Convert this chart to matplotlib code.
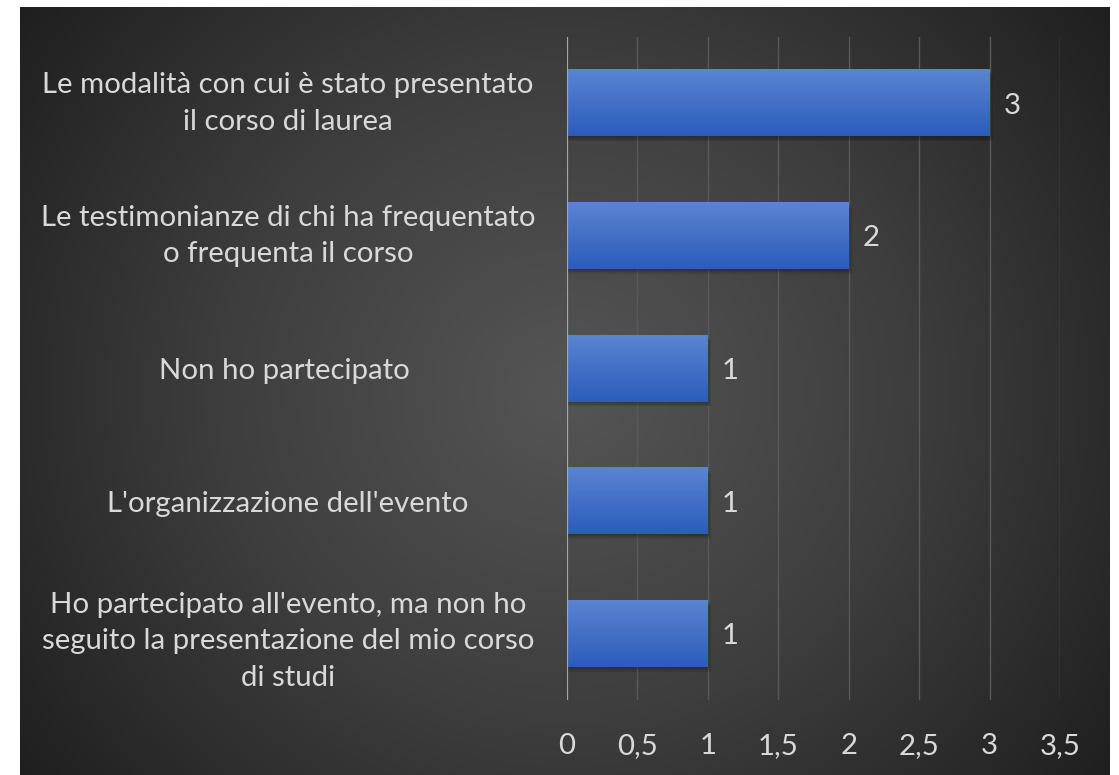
import numpy as np
import matplotlib
matplotlib.use("Agg")
import matplotlib.pyplot as plt
from matplotlib.colors import LinearSegmentedColormap

categories = [
    "Le modalità con cui è stato presentato\nil corso di laurea",
    "Le testimonianze di chi ha frequentato\no frequenta il corso",
    "Non ho partecipato ",
    "L'organizzazione dell'evento",
    "Ho partecipato all'evento, ma non ho\nseguito la presentazione del mio corso\ndi studi",
]
values = [3, 2, 1, 1, 1]
xticks = [0, 0.5, 1, 1.5, 2, 2.5, 3, 3.5]
xtick_labels = ["0", "0,5", "1", "1,5", "2", "2,5", "3", "3,5"]

W, H = 1119, 775
fig = plt.figure(figsize=(W / 100, H / 100), dpi=100, facecolor="white")
plt.rcParams["font.family"] = ["Lato", "DejaVu Sans"]
FS = 21.2
TXT = "#d9d9d9"

# background panel with radial gradient
bg = fig.add_axes([20 / W, 0, (1110 - 20) / W, (775 - 7) / H])
bg.set_axis_off()
ny, nx = 400, 560
yy, xx = np.mgrid[0:ny, 0:nx]
cx, cy = nx * 0.50, ny * 0.5
r = np.sqrt(((xx - cx) / nx) ** 2 + ((yy - cy) / ny) ** 2 * 0.55)
r = r / r.max()
cmap_bg = LinearSegmentedColormap.from_list("bg", ["#555555", "#3e3e3e", "#1f1f1f"])
bg.imshow(r, cmap=cmap_bg, aspect="auto", extent=(0, 1, 0, 1), interpolation="bilinear")
bg.set_xlim(0, 1)
bg.set_ylim(0, 1)

# main axes
x0, x1 = 567, 1060
y_top, y_bot = 37, 700
ax = fig.add_axes([x0 / W, 1 - y_bot / H, (x1 - x0) / W, (y_bot - y_top) / H])
ax.patch.set_alpha(0)
n = len(categories)

for xv in xticks[1:]:
    ax.axvline(xv, color="#595959", lw=1.0, zorder=0)
ax.axvline(0, color="#a6a6a6", lw=1.6, zorder=3)

cmap_bar = LinearSegmentedColormap.from_list("bar", ["#5b84d2", "#2c5dbb"])
grad = np.linspace(0, 1, 100).reshape(-1, 1)
h = 0.5
for i, v in enumerate(values):
    for k, a in enumerate([0.10, 0.10, 0.10]):
        d = 0.012 * (k + 1)
        ax.add_patch(plt.Rectangle((0, i - h / 2 + d), v + d * 0.7, h, color="black",
                                   alpha=a, lw=0, zorder=1))
    ax.imshow(grad, cmap=cmap_bar, aspect="auto", extent=(0, v, i + h / 2, i - h / 2),
              zorder=2, interpolation="bilinear")
    ax.text(v + 0.1, i, str(v), color=TXT, fontsize=FS, va="center_baseline", ha="left")

ax.set_xlim(0, 3.5)
ax.set_ylim(n - 0.5, -0.5)
ax.set_yticks(range(n))
ax.set_yticklabels(categories, color=TXT, fontsize=FS, ha="center",
                   linespacing=1.5)
ax.tick_params(axis="y", length=0, pad=0)
for lbl in ax.get_yticklabels():
    lbl.set_x(-0.566)
    nlines = lbl.get_text().count("\n") + 1
    lbl.set_va("center" if nlines == 2 else "center_baseline")
ax.set_xticks(xticks)
ax.set_xticklabels(xtick_labels, color=TXT, fontsize=FS)
ax.tick_params(axis="x", length=0, pad=24)
for s in ax.spines.values():
    s.set_visible(False)

fig.savefig("out.png", dpi=100, facecolor="white")
